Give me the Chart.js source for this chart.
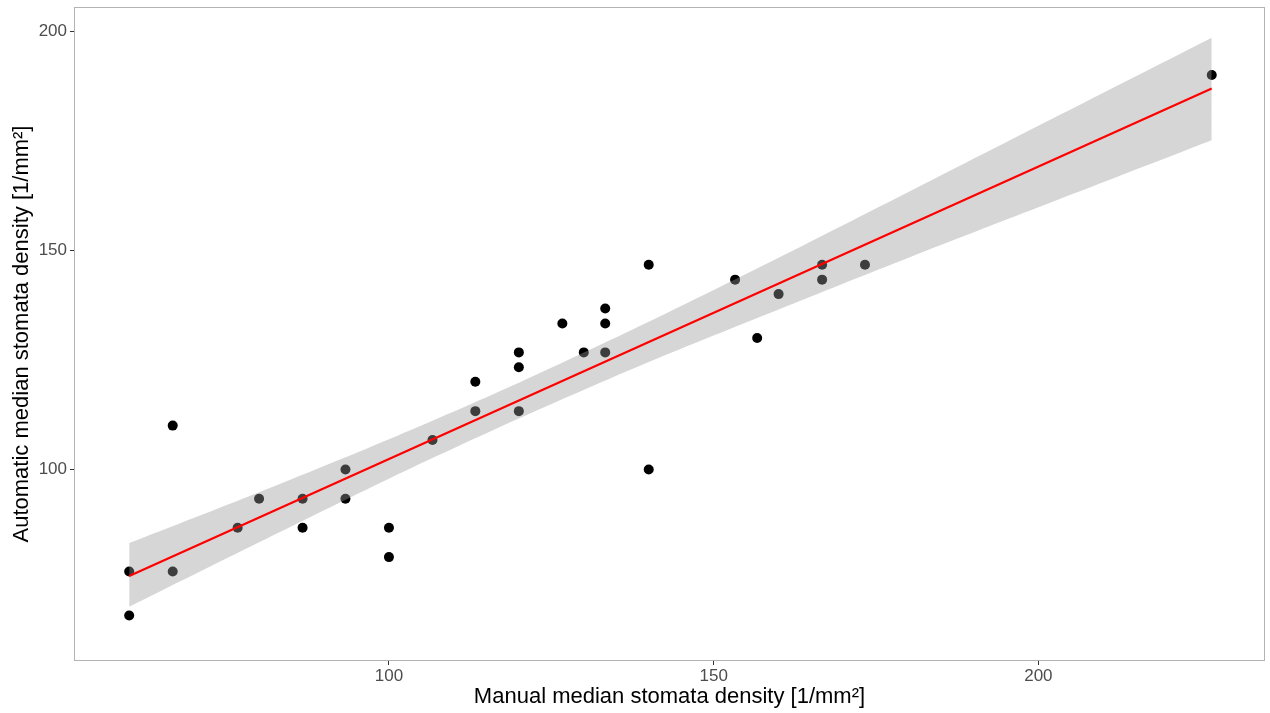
<!DOCTYPE html>
<html>
<head>
<meta charset="utf-8">
<script src="https://cdn.jsdelivr.net/npm/chart.js@4"></script>
<style>
  html, body { margin: 0; padding: 0; background: #fff; }
  #wrap { width: 1270px; height: 713px; }
</style>
</head>
<body>
<div id="wrap"><canvas id="chart" width="1270" height="713"></canvas></div>
<script>
// manual vs automatic median stomata density
const manualX = [60, 60, 66.7, 66.7, 76.7, 80, 86.7, 86.7, 93.3, 93.3, 100, 100, 106.7, 113.3, 113.3,
  120, 120, 120, 126.7, 130, 133.3, 133.3, 133.3, 140, 140, 153.3, 156.7, 160, 166.7, 166.7, 173.3, 226.7];
const automaticY = [76.7, 66.7, 110, 76.7, 86.7, 93.3, 93.3, 86.7, 100, 93.3, 86.7, 80, 106.7, 120, 113.3,
  126.7, 123.3, 113.3, 133.3, 126.7, 136.7, 133.3, 126.7, 146.7, 100, 143.3, 130, 140, 146.7, 143.3, 146.7, 190];

// linear fit and its confidence band
const fitX = [60, 226.7];
const fitY = [75.7, 186.9];
const bandX = [60, 80, 100, 120, 140, 160, 180, 200, 226.7];
const bandUpper = [83.2, 94.8, 106.9, 119.8, 133.7, 148.3, 163.3, 178.4, 198.5];
const bandLower = [68.7, 83.4, 97.9, 111.6, 124.5, 136.5, 148.3, 159.8, 175.1];

const xTicks = [100, 150, 200];
const yTicks = [100, 150, 200];

const toPts = (xs, ys) => xs.map((x, i) => ({ x: x, y: ys[i] }));

// panel border like ggplot theme_bw
const panelBorder = {
  id: "panelBorder",
  afterDraw(chart) {
    const { ctx, chartArea: a } = chart;
    ctx.save();
    ctx.strokeStyle = "#b3b3b3";
    ctx.lineWidth = 1;
    ctx.strokeRect(a.left + 0.5, a.top + 0.5, a.right - a.left - 1, a.bottom - a.top - 1);
    ctx.restore();
  }
};

// drop the label overhang padding chart.js adds, ggplot does not have it
const noOverhang = s => {
  s.paddingTop = 0; s.paddingBottom = 0; s.paddingLeft = 0; s.paddingRight = 0;
};

const tickFont = { family: "'Liberation Sans', Arial, sans-serif", size: 17 };
const titleFont = { family: "'Liberation Sans', Arial, sans-serif", size: 22 };

new Chart(document.getElementById("chart"), {
  type: "scatter",
  data: {
    datasets: [
      {
        label: "fit",
        type: "line",
        data: toPts(fitX, fitY),
        borderColor: "#ff0000",
        borderWidth: 2.2,
        pointRadius: 0,
        fill: false,
        order: 0
      },
      {
        label: "upper",
        type: "line",
        data: toPts(bandX, bandUpper),
        borderWidth: 0,
        borderColor: "rgba(0,0,0,0)",
        pointRadius: 0,
        tension: 0.3,
        backgroundColor: "rgba(153,153,153,0.4)",
        fill: "+1",
        order: 1
      },
      {
        label: "lower",
        type: "line",
        data: toPts(bandX, bandLower),
        borderWidth: 0,
        borderColor: "rgba(0,0,0,0)",
        pointRadius: 0,
        tension: 0.3,
        fill: false,
        order: 2
      },
      {
        label: "points",
        data: toPts(manualX, automaticY),
        backgroundColor: "#000",
        borderWidth: 0,
        pointRadius: 5,
        order: 3
      }
    ]
  },
  options: {
    responsive: false,
    animation: false,
    layout: { padding: { top: 7, right: 3, left: 0, bottom: 0 } },
    plugins: { legend: { display: false }, tooltip: { enabled: false } },
    scales: {
      x: {
        type: "linear",
        min: 51.5,
        max: 234.9,
        afterBuildTicks: s => { s.ticks = xTicks.map(v => ({ value: v })); },
        afterFit: s => { s.height = 52; noOverhang(s); },
        grid: { display: true, drawOnChartArea: false, drawTicks: true, tickLength: 4, color: "#333" },
        border: { display: false },
        ticks: { color: "#4d4d4d", font: tickFont, padding: 1, maxRotation: 0 },
        title: { display: true, text: "Manual median stomata density [1/mm²]", color: "#000", font: titleFont, padding: { top: 0, bottom: 3 } }
      },
      y: {
        type: "linear",
        min: 56.3,
        max: 205.5,
        afterBuildTicks: s => { s.ticks = yTicks.map(v => ({ value: v })); },
        afterFit: s => { s.width = 74; noOverhang(s); },
        grid: { display: true, drawOnChartArea: false, drawTicks: true, tickLength: 4, color: "#333" },
        border: { display: false },
        ticks: { color: "#4d4d4d", font: tickFont, padding: 3 },
        title: { display: true, text: "Automatic median stomata density [1/mm²]", color: "#000", font: titleFont, padding: { top: 9, bottom: 0 } }
      }
    }
  },
  plugins: [panelBorder]
});
</script>
</body>
</html>
